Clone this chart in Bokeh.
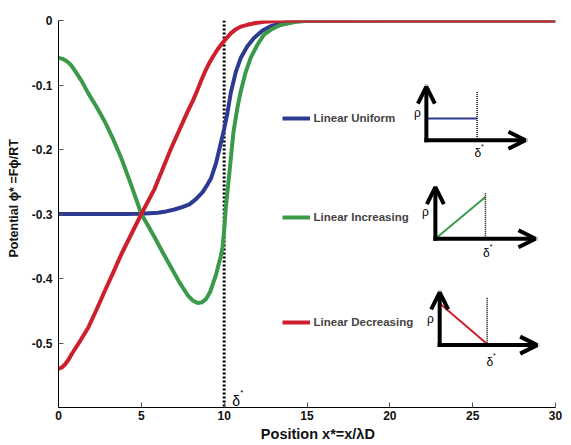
import math
from bokeh.plotting import figure
from bokeh.models import (Range1d, FixedTicker, Label, Legend, LegendItem,
                          Arrow, OpenHead, ColumnDataSource)
from bokeh.embed import file_html
from bokeh.resources import INLINE

# ---- data ----
x_uniform = [0, 1, 2, 3, 4, 5, 6, 6.5, 7.0, 7.5, 7.9, 8.3, 8.7, 9.0, 9.2, 9.5, 9.8,
             10.0, 10.2, 10.4, 10.7, 11.0, 11.4, 11.8, 12.3, 12.8, 13.4, 14, 15,
             20, 25, 30]
y_uniform = [-0.3, -0.3, -0.3, -0.3, -0.3, -0.2995, -0.298, -0.296, -0.293, -0.289,
             -0.285, -0.277, -0.266, -0.254, -0.245, -0.222, -0.19, -0.168, -0.143,
             -0.112, -0.08, -0.058, -0.04, -0.027, -0.016, -0.009, -0.004, -0.002,
             -0.0005, 0, 0, 0]

x_increasing = [0, 0.25, 0.5, 0.75, 1, 1.4, 1.8, 2.3, 2.8, 3.3, 3.8, 4.4, 5.0, 5.4,
                5.8, 6.3, 6.8, 7.3, 7.8, 8.1, 8.4, 8.65, 8.9, 9.15, 9.35, 9.5, 9.65,
                9.8, 9.9, 10.0, 10.1, 10.3, 10.56, 10.8, 11.0, 11.3, 11.6, 12.0, 12.4,
                12.9, 13.4, 14.4, 15.5, 20, 25, 30]
y_increasing = [-0.058, -0.0595, -0.063, -0.069, -0.078, -0.094, -0.113, -0.134,
                -0.157, -0.184, -0.214, -0.256, -0.30, -0.318, -0.336, -0.360, -0.383,
                -0.406, -0.426, -0.434, -0.438, -0.437, -0.432, -0.421, -0.406, -0.395,
                -0.38, -0.365, -0.352, -0.325, -0.29, -0.24, -0.173, -0.135, -0.11,
                -0.08, -0.058, -0.038, -0.022, -0.013, -0.007, -0.0015, 0, 0, 0, 0]

x_decreasing = [0, 0.2, 0.4, 0.6, 0.8, 1.3, 1.8, 2.3, 2.8, 3.3, 3.8, 4.4, 5.0, 5.8,
                6.8, 7.8, 8.1, 8.35, 8.6, 8.85, 9.1, 9.35, 9.6, 9.86, 10.16, 10.4,
                10.66, 11.0, 11.4, 11.9, 12.4, 13.5, 15, 20, 25, 30]
y_decreasing = [-0.54, -0.538, -0.533, -0.526, -0.517, -0.497, -0.476, -0.448, -0.419,
                -0.391, -0.362, -0.331, -0.30, -0.261, -0.198, -0.141, -0.125, -0.11,
                -0.094, -0.079, -0.066, -0.055, -0.045, -0.036, -0.027, -0.02, -0.0145,
                -0.0095, -0.0067, -0.004, -0.002, -0.0005, 0, 0, 0, 0]

series_names = ["Linear Uniform", "Linear Increasing", "Linear Decreasing"]
series_colors = ["#2E3A92", "#3B9A4A", "#CD1F2D"]

delta_star = 10
x_ticks = [0, 5, 10, 15, 20, 25, 30]
y_ticks = [0, -0.1, -0.2, -0.3, -0.4, -0.5]
y_tick_labels = ["0", "-0.1", "-0.2", "-0.3", "-0.4", "-0.5"]
x_title = "Position x*=x/λD"
y_title = "Potential ϕ* =Fϕ/RT"

FONT = "Liberation Sans"

p = figure(width=568, height=444, x_range=Range1d(0, 30), y_range=Range1d(-0.6, 0),
           output_backend="svg", toolbar_location=None,
           min_border_left=58, min_border_right=13, min_border_top=20,
           min_border_bottom=37)
p.outline_line_color = None
p.grid.visible = False
p.background_fill_color = "white"

for ax in (p.xaxis[0], p.yaxis[0]):
    ax.major_tick_in = 5
    ax.major_tick_out = 0
    ax.minor_tick_line_color = None
    ax.major_tick_line_color = "#555555"
    ax.axis_line_color = "black"
    ax.major_label_text_font = FONT
    ax.major_label_text_font_style = "bold"
    ax.major_label_text_font_size = "12px"
    ax.major_label_text_color = "#111111"
    ax.axis_label_text_font = FONT
    ax.axis_label_text_font_style = "bold"
    ax.axis_label_text_color = "#111111"

p.xaxis.ticker = FixedTicker(ticks=x_ticks)
p.yaxis.ticker = FixedTicker(ticks=y_ticks)
p.yaxis.major_label_overrides = {t: l for t, l in zip(y_ticks, y_tick_labels)}
p.xaxis.major_label_standoff = 3
p.yaxis.major_label_standoff = 6

# leading en-spaces shift the centred titles toward where the reference has them
p.xaxis.axis_label = "\u2002\u2002\u2002" + x_title
p.xaxis.axis_label_text_font_size = "14.5px"
p.xaxis.axis_label_standoff = 3
p.yaxis.axis_label = "\u2002\u2002\u2002\u2002\u2002" + y_title
p.yaxis.axis_label_text_font_size = "12.5px"
p.yaxis.axis_label_standoff = 8

# dotted delta* line
p.segment(x0=[delta_star], y0=[0], x1=[delta_star], y1=[-0.6], line_color="black",
          line_width=3, line_dash="2 2")

rs = []
for xs, ys, c in [(x_uniform, y_uniform, series_colors[0]),
                  (x_increasing, y_increasing, series_colors[1]),
                  (x_decreasing, y_decreasing, series_colors[2])]:
    rs.append(p.line(xs, ys, line_color=c, line_width=4, line_join="round"))

# legends (one per entry, placed beside each inset)
leg_locs = [(223.5, 282), (223.5, 182.6), (223.5, 77.6)]
for r, name, loc in zip(rs, series_names, leg_locs):
    lg = Legend(items=[LegendItem(label=name, renderers=[r])], location=loc,
                glyph_width=28, glyph_height=14, label_height=14, label_standoff=4,
                padding=0, margin=0, spacing=0, border_line_color=None,
                background_fill_alpha=0, label_text_font=FONT,
                label_text_font_style="bold", label_text_font_size="11.5px")
    p.add_layout(lg)

# ---- inset schematics ----
arr = ColumnDataSource(dict(
    x0=[22.205, 22.205, 22.749, 22.749, 23.009, 23.009],
    y0=[-0.18554, -0.18554, -0.33841, -0.33841, -0.50327, -0.50327],
    x1=[22.205, 28.187, 22.749, 28.792, 23.009, 28.894],
    y1=[-0.10264, -0.18554, -0.25817, -0.33841, -0.42146, -0.50327]))
p.add_layout(Arrow(source=arr, x_start="x0", y_start="y0", x_end="x1", y_end="y1",
                   line_width=4, line_color="black", line_cap="square",
                   end=OpenHead(size=17, line_width=4, line_color="black")))

p.line([22.205, 25.269], [-0.15179, -0.15179], line_color=series_colors[0], line_width=2)
p.line([22.749, 25.770], [-0.33841, -0.27372], line_color=series_colors[1], line_width=2)
p.line([23.051, 25.873], [-0.43950, -0.50171], line_color=series_colors[2], line_width=2)
p.segment(x0=[25.269, 25.770, 25.873], y0=[-0.1109, -0.26796, -0.42970],
          x1=[25.269, 25.770, 25.873], y1=[-0.18554, -0.33841, -0.50327],
          line_color="black", line_width=1.5, line_dash="1 1")

def lab(x, y, text, size, style="normal", align="center", baseline="middle", angle=0):
    p.add_layout(Label(x=x, y=y, text=text, text_font=FONT, text_font_size=size,
                       text_font_style=style, text_align=align, text_baseline=baseline,
                       angle=angle, text_color="black"))

for (rx, ry), (dx, dy) in [((21.66, -0.1427), (25.305, -0.2050)),
                           ((22.145, -0.2975), (25.83, -0.3605)),
                           ((22.447, -0.4624), (26.03, -0.5292))]:
    lab(rx, ry, "ρ", "12px")
    lab(dx, dy, "δ", "12px")
    lab(dx + 0.28, dy + 0.0095, "*", "7px")

lab(10.725, -0.5899, "δ", "14px")
lab(11.07, -0.5775, "*", "8px")

open("out.html", "w").write(file_html(p, INLINE))
